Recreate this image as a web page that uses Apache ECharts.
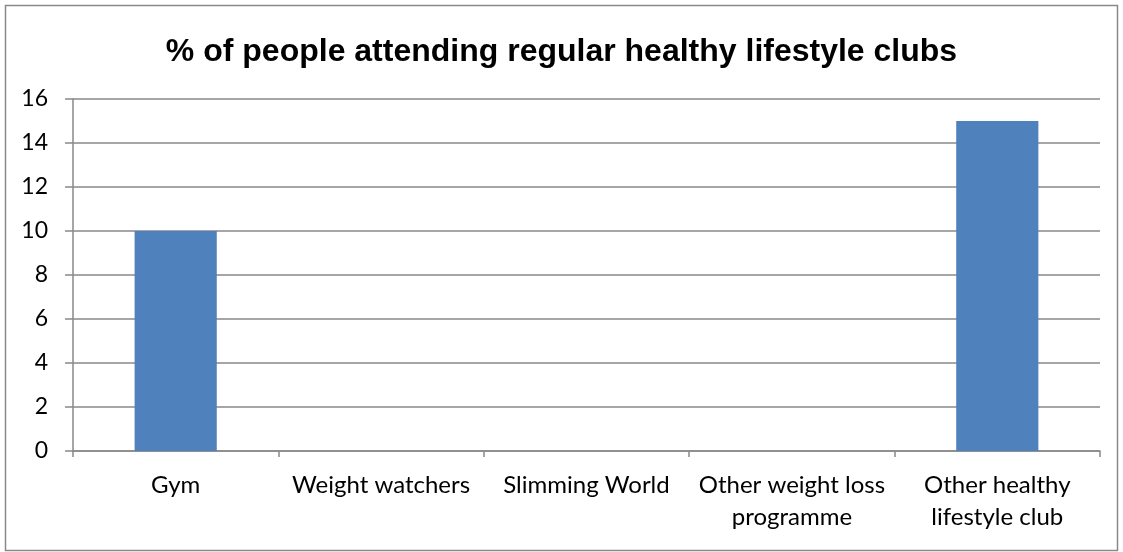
<!DOCTYPE html>
<html lang="en">
<head>
    <meta charset="UTF-8">
    <title>% of people attending regular healthy lifestyle clubs</title>
    <script src="https://cdn.jsdelivr.net/npm/echarts@6/dist/echarts.min.js"></script>
    <style>
        * { margin: 0; padding: 0; }
        #chart { width: 1123px; height: 552px; background: #fff; }
    </style>
</head>
<body>
    <div id="chart"></div>
    <script>
        const categories = ['Gym', 'Weight watchers', 'Slimming World', 'Other weight loss\nprogramme', 'Other healthy\nlifestyle club'];
        const values = [10, 0, 0, 0, 15];
        const yTicks = { min: 0, max: 16, interval: 2 };

        const myChart = echarts.init(document.getElementById('chart'));
        const gray = '#898989';
        const option = {
            backgroundColor: '#fff',
            animation: false,
            title: {
                text: '% of people attending regular healthy lifestyle clubs',
                left: 'center',
                top: 31,
                textStyle: {
                    fontFamily: 'Liberation Sans, Arial',
                    fontWeight: 'bold',
                    fontSize: 32,
                    color: '#000'
                }
            },
            // chart frame
            graphic: [{
                type: 'rect',
                shape: { x: 5.5, y: 5.5, width: 1112, height: 545 },
                style: { fill: 'none', stroke: gray, lineWidth: 1.5 },
                silent: true
            }],
            grid: {
                left: 73,
                right: 23,
                top: 99,
                bottom: 101
            },
            xAxis: {
                type: 'category',
                data: categories,
                axisLine: { lineStyle: { color: gray, width: 1.5 } },
                axisTick: { show: true, length: 6, lineStyle: { color: gray, width: 1.5 } },
                axisLabel: {
                    interval: 0,
                    margin: 18,
                    fontFamily: 'Lato, Carlito, sans-serif',
                    fontSize: 24,
                    lineHeight: 32,
                    color: '#000'
                }
            },
            yAxis: {
                type: 'value',
                min: yTicks.min,
                max: yTicks.max,
                interval: yTicks.interval,
                axisLine: { show: true, lineStyle: { color: gray, width: 1.5 } },
                axisTick: { show: true, length: 8, lineStyle: { color: gray, width: 1.5 } },
                splitLine: { lineStyle: { color: gray, width: 1.5 } },
                axisLabel: {
                    margin: 25,
                    fontFamily: 'Lato, Carlito, sans-serif',
                    fontSize: 23,
                    color: '#000'
                }
            },
            series: [{
                type: 'bar',
                data: values,
                barWidth: '40%',
                itemStyle: { color: '#4F81BD' }
            }]
        };
        myChart.setOption(option);
    </script>
</body>
</html>
